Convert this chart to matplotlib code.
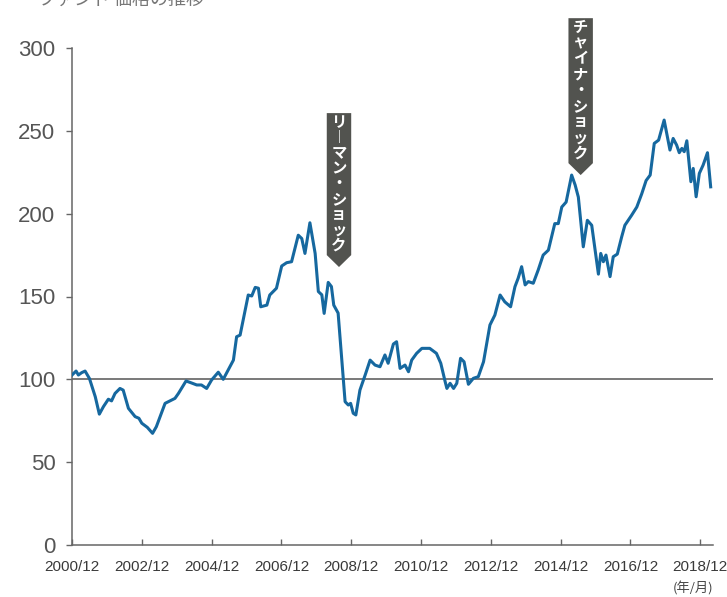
import matplotlib
matplotlib.use('Agg')
import matplotlib.pyplot as plt
from matplotlib import font_manager
from matplotlib.patches import Polygon

# months counted from 2000/12
months = [0, 1.4, 2.2, 3.3, 4.5, 6, 8, 9.4, 10.8, 12.5, 13.6, 14.8, 16.5, 17.6,
          19.4, 21.7, 23, 24, 25.9, 27.7, 29, 32, 33.7, 35.4, 36.6, 39.2, 40.8,
          42.9, 44.5, 46.3, 48, 49, 50.3, 52, 54.3, 55.5, 56.6, 57.8, 60.6, 61.8,
          63, 64.1, 64.9, 67, 68, 70.3, 72.1, 73.8, 75.5, 77.8, 79, 80.1, 81.8,
          83.6, 84.7, 85.9, 86.7, 88.1, 89.2, 90, 91.5, 92.7, 93.9, 95, 95.8,
          96.7, 97.6, 99, 100.8, 102.5, 104.2, 105.9, 107.6, 108.7, 110.5, 111.6,
          112.8, 114.5, 115.7, 116.8, 118.5, 120.3, 123, 125.3, 126.8, 128.3,
          128.9, 130, 131.2, 132.3, 133.6, 134.8, 136.3, 138, 139.7, 141.5, 143.7,
          145.4, 147.2, 148.8, 150.8, 152.3, 153.4, 154.6, 155.8, 156.9, 158.6,
          160.3, 162, 163.8, 166, 167.2, 168.4, 169.9, 171.8, 173, 174.1, 175.8,
          177.2, 178.7, 181, 181.8, 182.7, 183.6, 185, 186.1, 187.5, 189, 190.1,
          192.4, 194.2, 195.9, 197.4, 198.8, 200.2, 201.7, 203.6, 204.5, 205.6,
          206.7, 207.9, 208.8, 209.7, 210.5, 211.4, 212.3, 212.8, 213.6, 214.6,
          215.7, 217, 218.5, 219.6]
values = [102.6, 105, 102.6, 104, 105, 100.5, 89.5, 79, 83.5, 88, 87, 91.5, 94.5,
          93.5, 82.5, 77.5, 76.5, 73.5, 71, 67.4, 71.4, 85.5, 87, 88.5, 91.5, 99,
          98, 96.6, 96.6, 94.5, 99.6, 101.6, 104.3, 100, 107.6, 111.6, 125.7,
          126.7, 150.9, 150.3, 155.5, 155, 143.8, 144.8, 150.9, 155, 168.4, 170.4,
          171, 187, 185, 176, 194.5, 176, 153, 151, 139.8, 158.5, 156, 144.8, 140,
          113, 86.5, 84.5, 85.5, 79.5, 78.5, 93.5, 102.6, 111.6, 108.6, 107.6,
          114.7, 109.7, 121.3, 122.7, 106.6, 108.6, 104.6, 111.6, 115.7, 118.7,
          118.7, 115.7, 109.7, 98.6, 94.5, 97.6, 94.5, 97.6, 112.7, 110.6, 97,
          100.6, 101.6, 110.6, 132.8, 138.8, 150.9, 146.8, 143.8, 155.9, 161, 168,
          157, 159, 158, 166, 175, 178, 194, 194, 204, 207, 223.3, 217.3, 210, 180,
          196, 193, 163.5, 176, 171, 175, 162, 174, 175.6, 186, 193, 199, 204, 212,
          220, 223.3, 242.4, 244.4, 256.5, 248.5, 238.4, 245.4, 241.4, 236.8,
          239.4, 237.4, 244, 228.3, 219.3, 227.3, 210.2, 224.3, 229.3, 236.8, 216.2]

tick_months = list(range(0, 217, 24))
tick_labels = ['%d/12' % (2000 + m // 12) for m in tick_months]
y_ticks = [0, 50, 100, 150, 200, 250, 300]

# events: label, month of tip, value of tip, value of banner top
events = [('リーマン・ショック', 91.8, 167.8, 260.7),
          ('チャイナ・ショック', 174.9, 223.3, 318.0)]

cjk = ['Noto Sans CJK JP', 'DejaVu Sans']

# the x labels use a narrow face; pick one if it is installed
fonts = font_manager.fontManager.ttflist
x_font = dict(fontfamily='Liberation Sans', fontsize=11)
if any(f.name == 'Liberation Sans Narrow' for f in fonts):
    x_font = dict(fontfamily='Liberation Sans Narrow', fontsize=14)

fig = plt.figure(figsize=(7.27, 5.97), dpi=100)
ax = fig.add_axes([72 / 727, 52 / 597, 641 / 727, 497 / 597])

ax.plot(months, values, color='#16689f', lw=2.2, solid_joinstyle='round', zorder=3)
ax.axhline(100, color='#555555', lw=1.1, zorder=2)

ax.set_xlim(0, 220.4)
ax.set_ylim(0, 300)
ax.set_xticks(tick_months)
ax.set_xticklabels(tick_labels, color='#3a3a3a', **x_font)
ax.set_yticks(y_ticks)
ax.set_yticklabels([str(v) for v in y_ticks], fontfamily='Liberation Sans',
                   fontsize=16, color='#555555')
ax.tick_params(axis='x', direction='in', length=4, width=1, color='#666666', pad=11)
ax.tick_params(axis='y', direction='out', length=4, width=1, color='#666666', pad=8)

for s in ['top', 'right']:
    ax.spines[s].set_visible(False)
for s in ['left', 'bottom']:
    ax.spines[s].set_color('#666666')
    ax.spines[s].set_linewidth(1.1)

# vertical banners pointing at the shocks, one character per row
half_w = 4.2
tip_h = 7.2
for label, mx, tip, top in events:
    poly = Polygon([(mx - half_w, top), (mx + half_w, top), (mx + half_w, tip + tip_h),
                    (mx, tip), (mx - half_w, tip + tip_h)], closed=True,
                   facecolor='#52534f', edgecolor='none', clip_on=False, zorder=4)
    ax.add_patch(poly)
    chars = list(label.replace('ー', '︱'))
    step = (top - tip - tip_h - 2) / len(chars)
    for i, ch in enumerate(chars):
        ax.text(mx, top - step * (i + 0.5) - 0.6, ch, ha='center', va='center',
                color='white', fontsize=11, fontweight='bold', fontfamily=cjk,
                clip_on=False, zorder=5)

ax.text(1.0, -0.074, '(年/月)', transform=ax.transAxes, ha='right', va='top',
        fontsize=9.5, fontfamily=cjk, color='#444444')

# title is cut off at the top edge of the source image
fig.text(38 / 727, 1.0, 'ファンド 価格の推移', ha='left', va='center',
         fontsize=13, fontfamily=cjk, color='#777777')

fig.savefig('out.png', dpi=100)
